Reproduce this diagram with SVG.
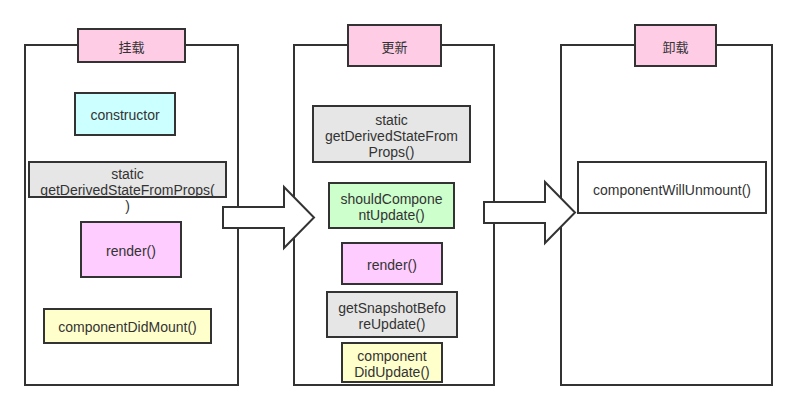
<svg xmlns="http://www.w3.org/2000/svg" width="797" height="411" viewBox="0 0 797 411">
<style>
.panel{fill:#fff;stroke:#333;stroke-width:2}
.box{stroke:#333;stroke-width:2}
.title{fill:#ffcce6}
.t{font-family:"Liberation Sans","Noto Sans CJK SC",sans-serif;font-size:14px;fill:#333;text-anchor:middle;dominant-baseline:central}
.cjk{font-family:"Noto Sans CJK SC",sans-serif;font-size:13px}
.arrow{fill:#fff;stroke:#333;stroke-width:2;stroke-linejoin:miter}
</style>
<rect width="797" height="411" fill="#fff"/>
<g id="panel-mount">
<rect class="panel" x="25" y="45" width="213" height="340"/>
<rect class="box title" x="78" y="29" width="107" height="33"/>
<text class="t cjk" x="131.5" y="46">挂载</text>
</g>
<g id="panel-update">
<rect class="panel" x="294" y="45" width="200" height="340"/>
<rect class="box title" x="348" y="25" width="93" height="41"/>
<text class="t cjk" x="394.5" y="46">更新</text>
</g>
<g id="panel-unmount">
<rect class="panel" x="561" y="45" width="211" height="340"/>
<rect class="box title" x="635" y="25" width="81" height="41"/>
<text class="t cjk" x="675.5" y="46">卸载</text>
</g>
<g id="constructor">
<rect class="box" fill="#ccffff" x="75" y="93" width="100" height="42"/>
<text class="t" x="125" y="115">constructor</text>
</g>
<g id="gdsfp-mount">
<rect class="box" fill="#e6e6e6" x="29" y="162" width="197" height="35"/>
<text class="t" x="127.5" y="174">static</text>
<text class="t" x="127.5" y="190">getDerivedStateFromProps(</text>
<text class="t" x="127.5" y="206">)</text>
</g>
<g id="render-mount">
<rect class="box" fill="#ffccff" x="81" y="222" width="100" height="55"/>
<text class="t" x="131" y="251">render()</text>
</g>
<g id="didmount">
<rect class="box" fill="#ffffcc" x="44" y="309" width="167" height="34"/>
<text class="t" x="127.5" y="327">componentDidMount()</text>
</g>
<g id="gdsfp-update">
<rect class="box" fill="#e6e6e6" x="313" y="106" width="157" height="56"/>
<text class="t" x="391.5" y="120">static</text>
<text class="t" x="391.5" y="136">getDerivedStateFrom</text>
<text class="t" x="391.5" y="152">Props()</text>
</g>
<g id="scu">
<rect class="box" fill="#ccffcc" x="329" y="183" width="125" height="45"/>
<text class="t" x="391.5" y="199">shouldCompone</text>
<text class="t" x="391.5" y="215">ntUpdate()</text>
</g>
<g id="render-update">
<rect class="box" fill="#ffccff" x="342" y="243" width="100" height="41"/>
<text class="t" x="392" y="265">render()</text>
</g>
<g id="gsbu">
<rect class="box" fill="#e6e6e6" x="327" y="292" width="130" height="45"/>
<text class="t" x="392" y="308">getSnapshotBefo</text>
<text class="t" x="392" y="324">reUpdate()</text>
</g>
<g id="didupdate">
<rect class="box" fill="#ffffcc" x="342" y="343" width="100" height="39"/>
<text class="t" x="392" y="356">component</text>
<text class="t" x="392" y="372">DidUpdate()</text>
</g>
<g id="willunmount">
<rect class="box" fill="#fff" x="578" y="162" width="188" height="51"/>
<text class="t" x="672" y="190">componentWillUnmount()</text>
</g>
<g id="connectors">
<polygon class="arrow" points="223,207 284,207 284,187 314,217.5 284,248 284,228 223,228"/>
<polygon class="arrow" points="484,202 545,202 545,182 575,212.5 545,243 545,223 484,223"/>
</g>
</svg>
